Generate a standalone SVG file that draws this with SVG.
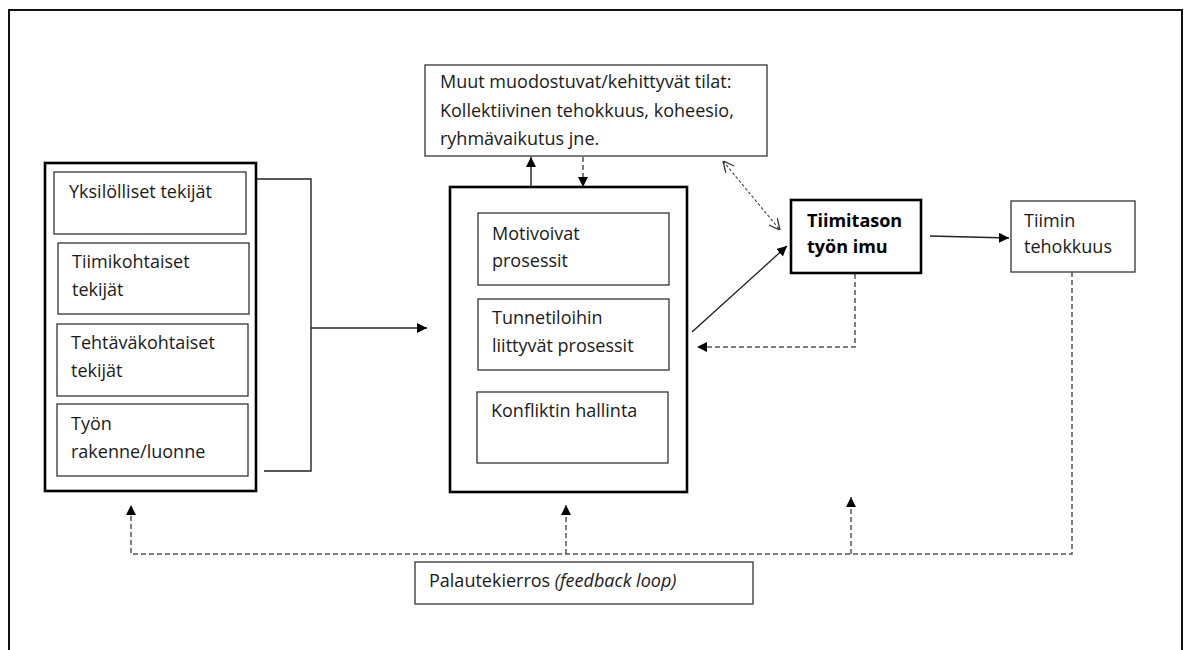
<svg xmlns="http://www.w3.org/2000/svg" width="1184" height="650" viewBox="0 0 1184 650">
  <style>
    .frame { fill: none; stroke: #111; stroke-width: 2; }
    .box { fill: #fff; stroke: #333; stroke-width: 1.3; }
    .thick { fill: #fff; stroke: #000; stroke-width: 2.6; }
    .t { font-family: "Open Sans", "Noto Sans", sans-serif; font-size: 18px; fill: #1a1a1a; }
    .b { font-weight: bold; fill: #000; }
    .solid { fill: none; stroke: #222; stroke-width: 1.4; }
    .dash { fill: none; stroke: #555; stroke-width: 1.5; stroke-dasharray: 5 3; }
    .dot { fill: none; stroke: #444; stroke-width: 1.1; stroke-dasharray: 3 2; }
  </style>
  <defs>
    <marker id="ah" viewBox="0 0 10 10" refX="10" refY="5" markerWidth="10" markerHeight="10" markerUnits="userSpaceOnUse" orient="auto">
      <path d="M0,0 L10,5 L0,10 Z" fill="#000"/>
    </marker>
    <marker id="open" viewBox="0 0 10 10" refX="10" refY="5" markerWidth="11" markerHeight="11" markerUnits="userSpaceOnUse" orient="auto-start-reverse">
      <path d="M0,0 L10,5 L0,10" fill="none" stroke="#333" stroke-width="1.2"/>
    </marker>
  </defs>

  <rect width="1184" height="650" fill="#fff"/>
  <!-- page frame, open at the bottom -->
  <path class="frame" d="M9,652 V10 H1182 V652"/>

  <!-- left column: input factors -->
  <g id="inputs">
    <rect class="thick" x="45" y="163" width="211" height="328"/>
    <g id="yksilolliset">
      <rect class="box" x="54" y="172" width="192" height="62"/>
      <text class="t" x="69" y="198">Yksilölliset tekijät</text>
    </g>
    <g id="tiimikohtaiset">
      <rect class="box" x="58" y="243" width="191" height="71"/>
      <text class="t" x="72" y="268">Tiimikohtaiset</text>
      <text class="t" x="72" y="296">tekijät</text>
    </g>
    <g id="tehtavakohtaiset">
      <rect class="box" x="57" y="324" width="191" height="72"/>
      <text class="t" x="71" y="349">Tehtäväkohtaiset</text>
      <text class="t" x="71" y="377">tekijät</text>
    </g>
    <g id="tyon-rakenne">
      <rect class="box" x="57" y="404" width="191" height="72"/>
      <text class="t" x="71" y="430">Työn</text>
      <text class="t" x="71" y="458">rakenne/luonne</text>
    </g>
  </g>

  <!-- middle column: team processes -->
  <g id="processes">
    <rect class="thick" x="450" y="187" width="237" height="305"/>
    <g id="motivoivat">
      <rect class="box" x="478" y="213" width="191" height="72"/>
      <text class="t" x="492" y="240">Motivoivat</text>
      <text class="t" x="492" y="267">prosessit</text>
    </g>
    <g id="tunnetiloihin">
      <rect class="box" x="478" y="299" width="191" height="71"/>
      <text class="t" x="492" y="324">Tunnetiloihin</text>
      <text class="t" x="492" y="352">liittyvät prosessit</text>
    </g>
    <g id="konfliktin-hallinta">
      <rect class="box" x="477" y="392" width="191" height="71"/>
      <text class="t" x="491" y="417">Konfliktin hallinta</text>
    </g>
  </g>

  <g id="emergent-states">
    <rect class="box" x="425" y="65" width="342" height="91"/>
    <text class="t" x="440" y="88">Muut muodostuvat/kehittyvät tilat:</text>
    <text class="t" x="440" y="117">Kollektiivinen tehokkuus, koheesio,</text>
    <text class="t" x="440" y="145">ryhmävaikutus jne.</text>
  </g>

  <g id="tiimitason-tyon-imu">
    <rect class="thick" x="791" y="200" width="130" height="73"/>
    <text class="t b" x="807" y="227">Tiimitason</text>
    <text class="t b" x="807" y="253">työn imu</text>
  </g>

  <g id="tiimin-tehokkuus">
    <rect class="box" x="1011" y="201" width="124" height="71"/>
    <text class="t" x="1024" y="227">Tiimin</text>
    <text class="t" x="1024" y="253">tehokkuus</text>
  </g>

  <g id="palautekierros">
    <rect class="box" x="415" y="562" width="338" height="42"/>
    <text class="t" x="429" y="587">Palautekierros <tspan font-style="italic">(feedback loop)</tspan></text>
  </g>

  <!-- connectors -->
  <g id="connectors">
    <!-- bracket joining the input factors -->
    <path class="solid" d="M257,179 H311 V471 H264"/>
    <path class="solid" d="M311,328 H427" marker-end="url(#ah)"/>
    <!-- processes to emergent states and back -->
    <path class="solid" d="M531,187 V157" marker-end="url(#ah)"/>
    <path class="dash" d="M583,157 V187" marker-end="url(#ah)"/>
    <!-- emergent states <-> team engagement -->
    <path class="dot" d="M723,161 L780,230" marker-start="url(#open)" marker-end="url(#open)"/>
    <!-- processes to team engagement -->
    <path class="solid" d="M692,332 L787,246" marker-end="url(#ah)"/>
    <!-- team engagement to effectiveness -->
    <path class="solid" d="M930,236 L1009,238" marker-end="url(#ah)"/>
    <!-- engagement feeds back to processes -->
    <path class="dash" d="M855,274 V347 H697" marker-end="url(#ah)"/>
    <!-- feedback loop -->
    <path class="dash" d="M1072,272 V554 H131 V505" marker-end="url(#ah)"/>
    <path class="dash" d="M566,554 V505" marker-end="url(#ah)"/>
    <path class="dash" d="M851,554 V497" marker-end="url(#ah)"/>
  </g>
</svg>
